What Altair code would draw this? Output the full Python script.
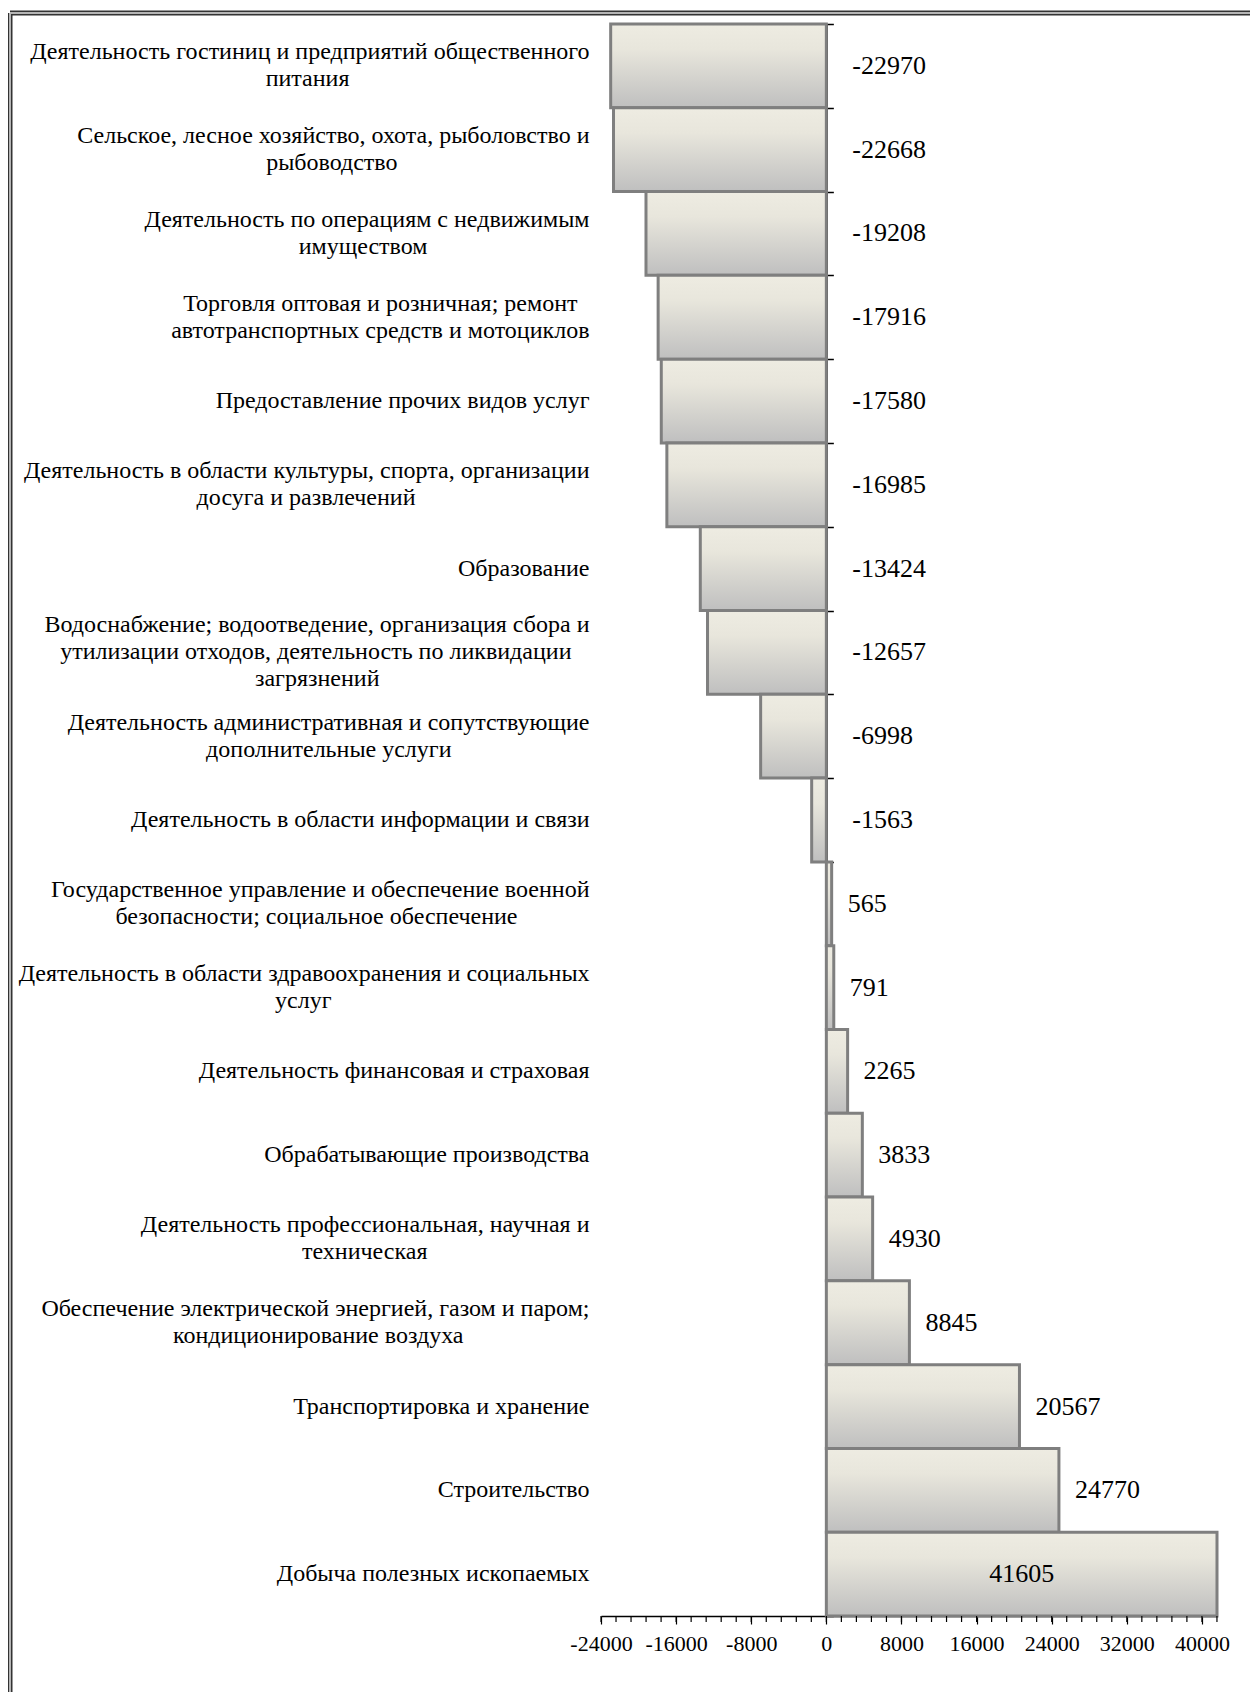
import altair as alt
import pandas as pd

categories = [
    "Деятельность гостиниц и предприятий общественного\nпитания",
    "Сельское, лесное хозяйство, охота, рыболовство и\nрыбоводство",
    "Деятельность по операциям с недвижимым\nимуществом",
    "Торговля оптовая и розничная; ремонт\nавтотранспортных средств и мотоциклов",
    "Предоставление прочих видов услуг",
    "Деятельность в области культуры, спорта, организации\nдосуга и развлечений",
    "Образование",
    "Водоснабжение; водоотведение, организация сбора и\nутилизации отходов, деятельность по ликвидации\nзагрязнений",
    "Деятельность административная и сопутствующие\nдополнительные услуги",
    "Деятельность в области информации и связи",
    "Государственное управление и обеспечение военной\nбезопасности; социальное обеспечение",
    "Деятельность в области здравоохранения и социальных\nуслуг",
    "Деятельность финансовая и страховая",
    "Обрабатывающие производства",
    "Деятельность профессиональная, научная и\nтехническая",
    "Обеспечение электрической энергией, газом и паром;\nкондиционирование воздуха",
    "Транспортировка и хранение",
    "Строительство",
    "Добыча полезных ископаемых",
]
values = [-22970, -22668, -19208, -17916, -17580, -16985, -13424, -12657, -6998,
          -1563, 565, 791, 2265, 3833, 4930, 8845, 20567, 24770, 41605]

x_min, x_max = -24000, 41605
major_ticks = [-24000, -16000, -8000, 0, 8000, 16000, 24000, 32000, 40000]
minor_ticks = list(range(-24000, 41601, 1600))

# approximate serif glyph widths (em) so that wrapped label lines can be centred
# within their right-aligned block, as in the original
_w = {"а": .444, "б": .5, "в": .472, "г": .41, "д": .509, "е": .444, "ж": .723,
      "з": .401, "и": .535, "й": .535, "к": .473, "л": .51, "м": .641, "н": .535,
      "о": .5, "п": .535, "р": .5, "с": .444, "т": .437, "у": .5, "ф": .648,
      "х": .5, "ц": .535, "ч": .504, "ш": .776, "щ": .776, "ъ": .568, "ы": .709,
      "ь": .478, "э": .441, "ю": .745, "я": .486, " ": .25, ",": .25, ";": .278}


def _tw(s):
    return sum(_w.get(c, 0.66 if c.isupper() else 0.5) for c in s)


def _centre(cat):
    lines = cat.split("\n")
    m = max(_tw(l) for l in lines)
    out = []
    for l in lines:
        n = int(round((m - _tw(l)) / 2 / 0.25))
        out.append(l + ("\u00a0" * n + "\u200b" if n > 0 else ""))
    return "\n".join(out)


display = [_centre(c) for c in categories]

df = pd.DataFrame({"cat": display, "value": values,
                   "label": [str(v) for v in values]})
minor_df = pd.DataFrame({"t": minor_ticks})

FONT = "Liberation Serif"
W, H = 616, 1592
LH = 27

xscale = alt.Scale(domain=[x_min, x_max], nice=False, zero=False)
yscale = alt.Scale(domain=display, paddingInner=0, paddingOuter=0)

nlines = "length(split(datum.label, '\\n'))"
label_offset = {"condition": [{"test": f"{nlines} == 3", "value": -LH},
                              {"test": f"{nlines} == 2", "value": -LH / 2}],
                "value": 0}

base = alt.Chart(df)

bars = base.mark_bar(
    color=alt.Gradient(
        gradient="linear", x1=0, y1=0, x2=0, y2=1,
        stops=[alt.GradientStop(color="#eeece2", offset=0),
               alt.GradientStop(color="#e8e6dc", offset=0.3),
               alt.GradientStop(color="#bfbfbf", offset=1)]),
    stroke="#7f7f7f", strokeWidth=3,
).encode(
    x=alt.X("value:Q", scale=xscale,
            axis=alt.Axis(values=major_ticks, title=None,
                          labelExpr="replace(format(datum.value, 'd'), '\u2212', '-')",
                          tickSize=8, labelFlush=False,
                          domainColor="#000", domainWidth=1.5, tickColor="#000", tickWidth=1.2,
                          labelFont=FONT, labelFontSize=22, labelColor="#000", labelPadding=9,
                          grid=False, labelOverlap=False)),
    x2=alt.datum(0),
    y=alt.Y("cat:N", scale=yscale, sort=display,
            axis=alt.Axis(title=None, ticks=False, domain=False,
                          labelExpr="split(datum.label, '\\n')",
                          labelOffset=label_offset,
                          labelFont=FONT, labelFontSize=24, labelColor="#000",
                          labelPadding=12, labelLimit=0, labelLineHeight=LH,
                          labelAlign="right", labelBaseline="middle")),
)

zero_axis = base.mark_bar(opacity=0).encode(
    y=alt.Y("cat:N", scale=yscale, sort=display,
            axis=alt.Axis(orient="right", offset=-(W * (x_max - 0) / (x_max - x_min)),
                          labels=False, title=None, tickBand="extent", ticks=True,
                          tickSize=7, tickColor="#000", tickWidth=1.5,
                          domain=True, domainColor="#000", domainWidth=2)),
)

minor = alt.Chart(minor_df).mark_rule(color="#000", strokeWidth=1.2).encode(
    x=alt.X("t:Q", scale=xscale),
    y=alt.value(H), y2=alt.value(H + 6),
)

neg_labels = base.transform_filter("datum.value < 0").mark_text(
    align="left", baseline="middle", dx=26, font=FONT, fontSize=26, color="#000"
).encode(x=alt.datum(0), y=alt.Y("cat:N", scale=yscale, sort=display, axis=None),
         text="label:N")

pos_labels = base.transform_filter("datum.value >= 0 && datum.value < 40000").mark_text(
    align="left", baseline="middle", dx=16, font=FONT, fontSize=26, color="#000"
).encode(x="value:Q", y=alt.Y("cat:N", scale=yscale, sort=display, axis=None),
         text="label:N")

in_labels = base.transform_filter("datum.value >= 40000").transform_calculate(
    mid="datum.value / 2"
).mark_text(
    align="center", baseline="middle", font=FONT, fontSize=26, color="#000"
).encode(x="mid:Q", y=alt.Y("cat:N", scale=yscale, sort=display, axis=None),
         text="label:N")

# chart frame (double border line at top and left)
one = alt.Chart(df.head(1))
frame_outer_top = one.mark_rule(color="#333333", strokeWidth=5).encode(
    x=alt.value(-591), x2=alt.value(700), y=alt.value(-11))
frame_outer_left = one.mark_rule(color="#333333", strokeWidth=5).encode(
    x=alt.value(-591), y=alt.value(-11), y2=alt.value(1700))
frame_inner_top = one.mark_rule(color="#b5b5b5", strokeWidth=2).encode(
    x=alt.value(-591), x2=alt.value(700), y=alt.value(-11))
frame_inner_left = one.mark_rule(color="#b5b5b5", strokeWidth=2).encode(
    x=alt.value(-591), y=alt.value(-11), y2=alt.value(1700))

chart = alt.layer(
    bars, zero_axis, minor, neg_labels, pos_labels, in_labels,
    frame_outer_top, frame_outer_left, frame_inner_top, frame_inner_left,
).resolve_axis(y="independent").properties(
    width=W, height=H,
    background="white",
    autosize=alt.AutoSizeParams(type="none"),
    padding={"left": 593, "top": 16, "right": 33, "bottom": 76},
).configure_view(stroke=None)

chart.save("out.html", embed_options={"renderer": "svg", "actions": False})
